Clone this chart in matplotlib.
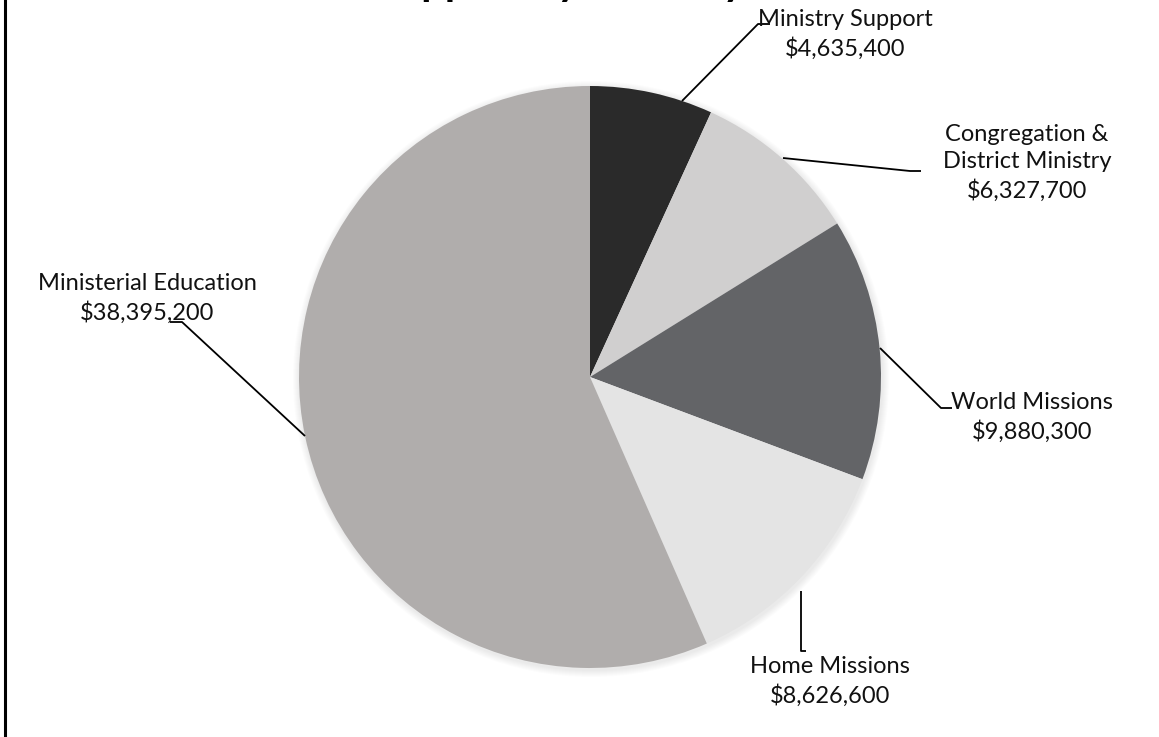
import matplotlib
matplotlib.use("Agg")
import matplotlib.pyplot as plt
from matplotlib.patches import Circle
from matplotlib.lines import Line2D

plt.rcParams['font.family'] = ['Lato', 'DejaVu Sans']

categories = ["Ministry Support", "Congregation &\nDistrict Ministry", "World Missions",
              "Home Missions", "Ministerial Education"]
values = [4635400, 6327700, 9880300, 8626600, 38395200]
colors = ["#2a2a2a", "#d0cfcf", "#636467", "#e4e4e4", "#b0adac"]
title = "Support by Ministry"

W, H = 1159, 737
fig = plt.figure(figsize=(W / 100, H / 100), dpi=100)
ax = fig.add_axes([0, 0, 1, 1])

cx, cy, R = 590, H - 377, 291

# soft shadow
for k in range(7, 0, -1):
    ax.add_patch(Circle((cx + 1, cy - 2), R + k, color="black", alpha=0.012, lw=0, zorder=0))

ax.pie(values, colors=colors, startangle=90, counterclock=False,
       center=(cx, cy), radius=R, wedgeprops=dict(linewidth=0), frame=True)

ax.set_xlim(0, W)
ax.set_ylim(0, H)
ax.set_aspect('equal')
ax.axis('off')

def fmt(v):
    return "${:,}".format(v)

# label positions (pixel coords, top-origin) and leader lines
label_pos = [(845, 34), (1027, 163), (1032, 417), (830, 681), (147, 298)]
leaders = [
    [(682, 101), (758, 24), (770, 24)],
    [(783, 158), (910, 171), (921, 171)],
    [(880, 348), (941, 408), (952, 408)],
    [(801, 591), (801, 651), (806, 651)],
    [(305, 436), (182, 322), (170, 322)],
]

fs = 17
for cat, v, (lx, ly), pts in zip(categories, values, label_pos, leaders):
    ax.text(lx, H - ly, cat + "\n" + fmt(v), ha='center', va='center',
            fontsize=fs, color='#111111', linespacing=1.38)
    xs = [p[0] for p in pts]
    ys = [H - p[1] for p in pts]
    ax.plot(xs, ys, color='black', lw=1.3, solid_capstyle='butt')

# cut-off title at the top (only descenders visible, as in the reference)
fig.text(560 / W, 1 + 5.5 / H, title, ha='center', va='baseline',
         fontsize=30, fontweight='bold', color='black')

# left border
fig.add_artist(Line2D([5 / W, 5 / W], [0, 1], color='black', lw=2.2,
                      transform=fig.transFigure))

fig.savefig("out.png", dpi=100, facecolor='white')
